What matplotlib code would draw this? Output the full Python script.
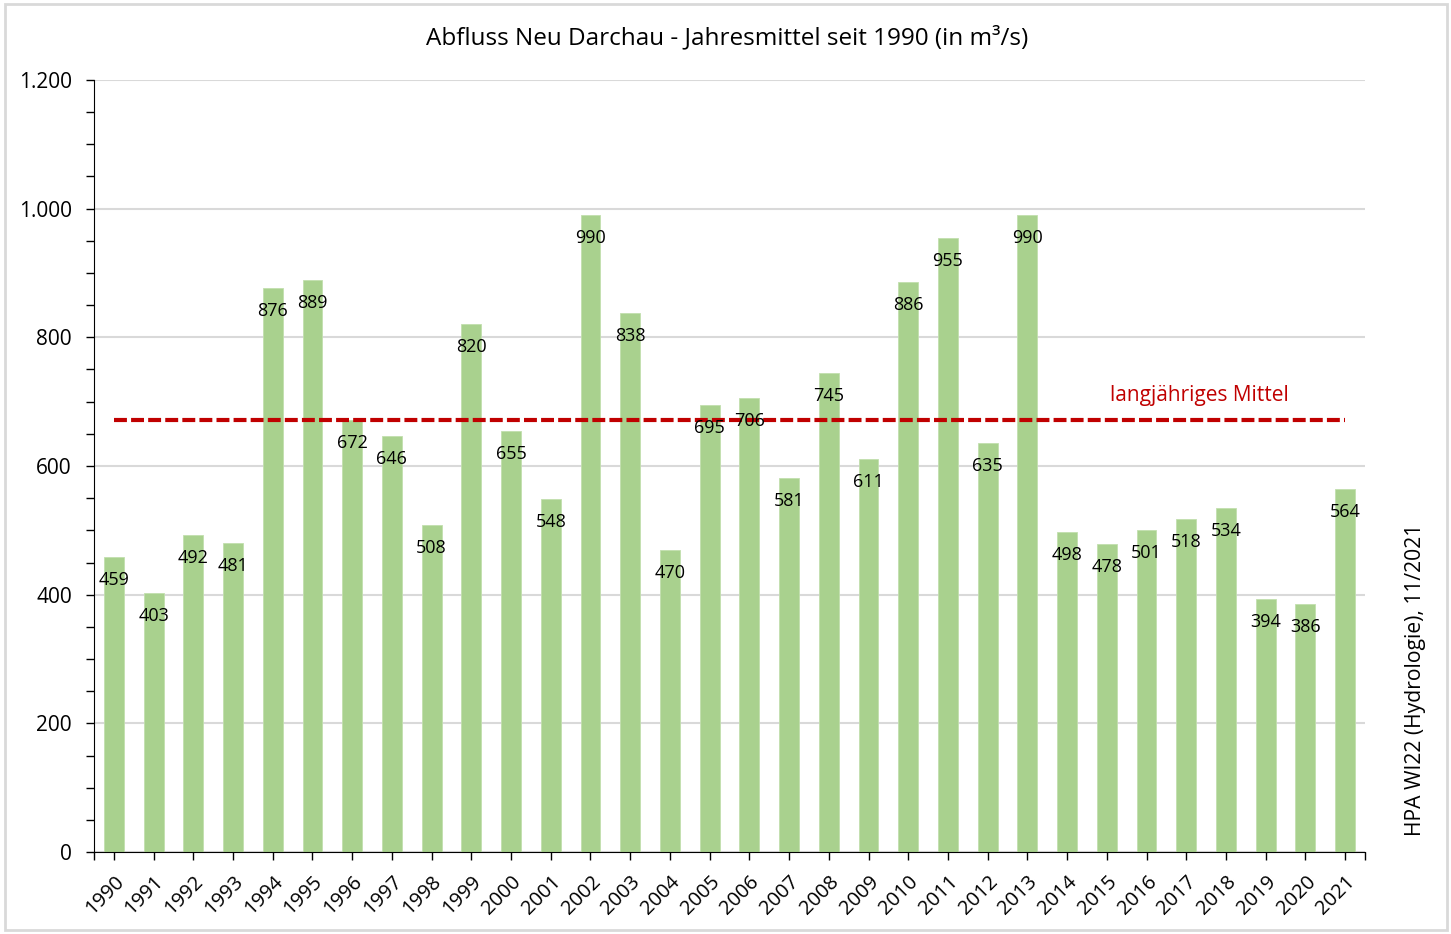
import numpy as np
import matplotlib.pyplot as plt
from matplotlib.patches import Rectangle
from matplotlib.ticker import FuncFormatter, MultipleLocator

plt.rcParams['font.family'] = ['Open Sans', 'DejaVu Sans']

# data
years = [str(y) for y in range(1990, 2022)]
flow = [459, 403, 492, 481, 876, 889, 672, 646, 508, 820, 655, 548, 990, 838, 470, 695,
        706, 581, 745, 611, 886, 955, 635, 990, 498, 478, 501, 518, 534, 394, 386, 564]
long_term_mean = 672

bar_color = '#a9d18e'
mean_color = '#c00000'
grid_color = '#d9d9d9'

fig = plt.figure(figsize=(14.51, 9.34), dpi=100)
W, H = 1451, 934

# light frame around the whole chart
fig.patches.append(Rectangle((5 / W, 4 / H), 1442 / W, 926 / H, transform=fig.transFigure,
                             fill=False, edgecolor=grid_color, linewidth=2))

ax = fig.add_axes([94 / W, 1 - 852 / H, (1365 - 94) / W, (852 - 80) / H])

x = np.arange(len(years))
bars = ax.bar(x, flow, width=0.5, color=bar_color, edgecolor='#c2dfae', linewidth=0.6, zorder=2)

for xi, v in zip(x, flow):
    ax.annotate(str(v), (xi, v), xytext=(0, -23), textcoords='offset pixels',
                ha='center', va='center', fontsize=13, color='#000000', zorder=4)

ax.plot([x[0], x[-1]], [long_term_mean, long_term_mean], color=mean_color, linewidth=3,
        dashes=(3.1, 1.0), zorder=3)
ax.text(27.33, 710, 'langjähriges Mittel', color=mean_color, fontsize=15,
        ha='center', va='center')

ax.set_xlim(-0.5, len(years) - 0.5)
ax.set_ylim(0, 1200)

ax.yaxis.set_major_locator(MultipleLocator(200))
ax.yaxis.set_minor_locator(MultipleLocator(50))
ax.yaxis.set_major_formatter(FuncFormatter(lambda v, p: f'{int(v):,}'.replace(',', '.')))
ax.tick_params(axis='y', which='both', direction='out', length=5.5, width=1,
               labelsize=15, pad=10.5, color='#000000')

ax.set_xticks(x)
ax.set_xticklabels(years, rotation=45, ha='right', rotation_mode='anchor', fontsize=14.5)
ax.set_xticks([-0.5, len(years) - 0.5], minor=True)
ax.tick_params(axis='x', which='both', direction='out', length=5.5, width=1, pad=9,
               color='#000000')

ax.grid(axis='y', which='major', color=grid_color, linewidth=1.5, zorder=0)
ax.set_axisbelow(True)
for side in ['top', 'right']:
    ax.spines[side].set_visible(False)
ax.spines['left'].set_color('#000000')
ax.spines['bottom'].set_color('#000000')

fig.text(727 / W, 1 - 38 / H, 'Abfluss Neu Darchau - Jahresmittel seit 1990 (in m³/s)',
         ha='center', va='center', fontsize=17.5)
fig.text(1416 / W, 1 - 680 / H, 'HPA WI22 (Hydrologie), 11/2021', rotation=90,
         ha='center', va='center', fontsize=15.2)

fig.savefig('out.png', dpi=100, facecolor='white')
